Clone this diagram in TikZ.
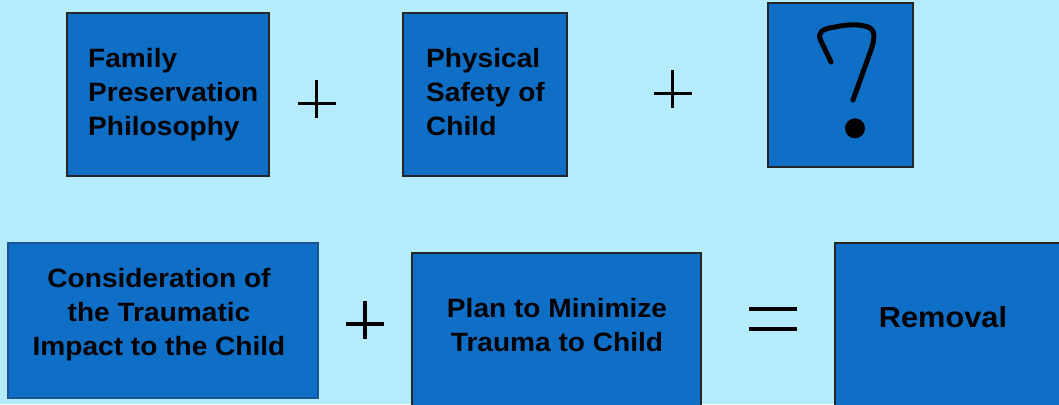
\documentclass[tikz,border=0pt]{standalone}
\usepackage{fontspec}
\newfontfamily\boxfont[FakeStretch=1.06]{Liberation Sans}
\usepackage{tikz}
\usetikzlibrary{positioning}
\definecolor{sky}{HTML}{B4ECFB}
\definecolor{boxblue}{HTML}{0F6FC6}
\definecolor{edgeblue}{HTML}{1A5593}

\begin{document}
\begin{tikzpicture}[x=1pt, y=-1pt,
  blk/.style={draw=black!85, line width=1.2pt, fill=boxblue, inner sep=0pt},
  txt/.style={inner sep=0pt, font=\boxfont\bfseries\fontsize{26.5}{34}\selectfont},
  sign/.style={line width=3.5pt, black}]
\fill[sky] (0,0) rectangle (1059,404);
\useasboundingbox (0,0) rectangle (1059,404);
\clip (0,0) rectangle (1059,404);
% top row
\node[blk, minimum width=202, minimum height=163] (fam) at (168,94.5) {};
\node[blk, minimum width=164, minimum height=163] (safe) at (485,94.5) {};
\node[blk, minimum width=145, minimum height=164] (what) at (840.5,85) {};
\node[txt, align=left, anchor=north west] (famtxt) at (88,48) {Family\\Preservation\\Philosophy};
\node[txt, align=left, anchor=north west] (safetxt) at (426,48) {Physical\\Safety of\\Child};
\draw[line width=5pt, line cap=round] (831,62) -- (821,41) .. controls (817,33) and (821,29) .. (835,27)
  .. controls (848,24) and (863,24) .. (870,28) .. controls (876,32) and (874,41) .. (871,50) -- (853,100);
\fill (855,128.3) circle (10);
% bottom row
\node[blk, draw=edgeblue, line width=2.7pt, minimum width=310, minimum height=155] (trauma) at (163,320.5) {};
\node[blk, minimum width=289, minimum height=167] (plan) at (556.5,336.5) {};
\node[blk, minimum width=245, minimum height=177] (remove) at (957.5,331.5) {};
\node[txt, align=center, anchor=north] (traumatxt) at (159,268) {Consideration of\\the Traumatic\\Impact to the Child};
\node[txt, align=center, anchor=north] (plantxt) at (557,298) {Plan to Minimize\\Trauma to Child};
\node[txt, font=\boxfont\bfseries\fontsize{29}{34}\selectfont] (removetxt) at (943,317) {Removal};
% operators
\foreach \cx/\cy in {316.5/103.3, 672.5/93.3, 365/324}{
  \draw[sign] (\cx-19,\cy) -- (\cx+19,\cy);
  \draw[sign] (\cx,\cy-23) -- (\cx,\cy+15);
};
\draw[sign] (749,309) -- (797,309);
\draw[sign] (749,329) -- (797,329);
\end{tikzpicture}
\end{document}
